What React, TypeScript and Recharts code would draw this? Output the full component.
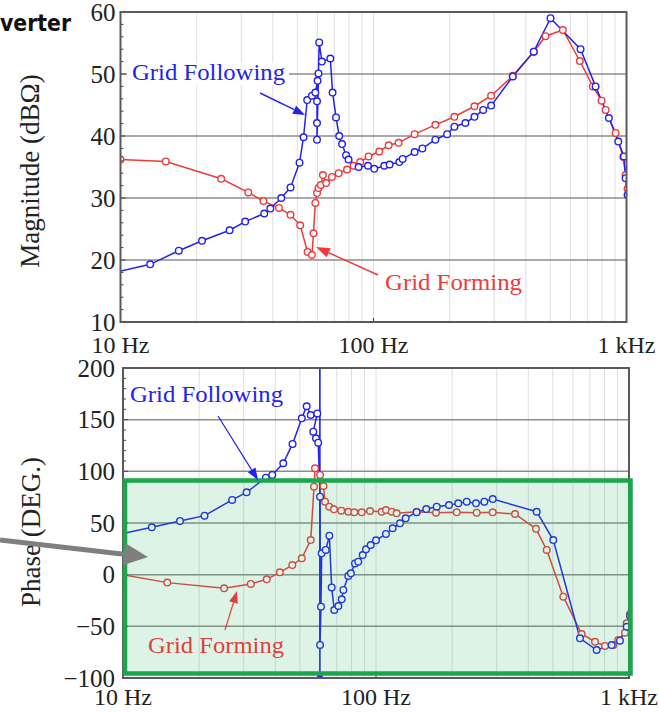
import React from 'react';
import { LineChart, Line, XAxis, YAxis, CartesianGrid, ReferenceLine, ReferenceDot } from 'recharts';

const BLUE = '#2222f0';
const RED = '#ee3a3a';
const SERIF = 'Liberation Serif, Times New Roman, Times, serif';

const freqTicks = [10, 20, 30, 40, 50, 60, 70, 80, 90, 100, 200, 300, 400, 500, 600, 700, 800, 900, 1000];
const freqTickLabels: Record<number, string> = { 10: '10 Hz', 100: '100 Hz', 1000: '1 kHz' };
const magTicks = [10, 20, 30, 40, 50, 60];
const magMinorTicks = [10, 12, 14, 16, 18, 20, 22, 24, 26, 28, 30, 32, 34, 36, 38, 40, 42, 44, 46, 48, 50, 52, 54, 56, 58, 60];
const magGrid = [20, 30, 40, 50];
const phaseTicks = [-100, -50, 0, 50, 100, 150, 200];
const phaseMinorTicks = [-100, -90, -80, -70, -60, -50, -40, -30, -20, -10, 0, 10, 20, 30, 40, 50, 60, 70, 80, 90, 100, 110, 120, 130, 140, 150, 160, 170, 180, 190, 200];
const phaseGrid = [-50, 0, 50, 100, 150];
const gridFreq = 60;

// magnitude - grid following
const magFollowFreq = [9.3, 13.1, 17.0, 21.0, 27.0, 31.1, 37.0, 39.1, 43.2, 47.0, 51.0, 52.9, 54.7, 57.1, 58.9, 60.1, 60.6, 59.8, 59.8, 59.8, 61.0, 62.5, 67.5, 68.9, 71.1, 73.2, 75.1, 77.9, 79.7, 87.3, 95.1, 100.7, 110.3, 115.8, 126.5, 130.4, 145.4, 156, 175.6, 195.4, 208.8, 230.8, 250.6, 271.3, 291.7, 355.2, 430, 500.8, 658.3, 754.7, 852, 928, 976.6, 991.7, 1010];
const magFollowVal = [17.9, 19.3, 21.5, 23.1, 24.8, 26.2, 27.5, 28.3, 30.0, 31.7, 35.7, 39.8, 45.8, 46.5, 47.0, 48.9, 50.1, 45.6, 42.1, 39.4, 55.1, 52.0, 52.5, 47.0, 43.0, 40.0, 38.7, 36.9, 36.2, 35.0, 35.2, 34.7, 35.2, 35.4, 35.8, 36.3, 37.4, 38.0, 39.4, 40.3, 41.5, 42.1, 43.1, 44.2, 44.9, 49.6, 53.6, 59.0, 54.0, 48.0, 42.9, 39.1, 36.7, 33.2, 30.5];

// magnitude - grid forming
const magFormFreq = [10, 15.1, 25.0, 32.0, 36.7, 42.3, 47.0, 51.3, 54.9, 57.1, 57.9, 58.9, 59.8, 60.6, 61.9, 63.1, 65.0, 68.5, 72.8, 78.6, 83.4, 88.6, 95.6, 105.4, 114.8, 125.7, 145.4, 175.6, 208.8, 250.6, 291.7, 355.2, 430, 478.6, 560.2, 654, 736, 797, 827, 906, 971, 992, 1010];
const magFormVal = [36.2, 35.9, 33.1, 30.9, 29.5, 28.4, 27.3, 25.6, 21.3, 20.8, 24.3, 29.2, 30.8, 31.6, 32.1, 33.7, 32.4, 33.4, 34.0, 34.6, 35.2, 35.8, 36.7, 37.5, 38.5, 38.9, 40.3, 41.8, 43.1, 44.8, 46.5, 49.7, 53.6, 56.1, 57.1, 52.1, 48.0, 45.7, 44.2, 40.5, 36.6, 33.7, 31.5];

// phase - grid following
const phFollowFreq = [9.4, 13.0, 16.8, 21.0, 27.0, 30.8, 36.7, 38.9, 43.0, 46.8, 50.9, 53.2, 55.2, 58.6, 56.5, 57.9, 59.1, 60.1, 60.1, 60.6, 61.0, 63.3, 65.4, 66.8, 68.4, 71.0, 73.2, 74.3, 77.7, 79.6, 82.6, 85.1, 88.6, 91.3, 95.3, 100, 109.5, 116.4, 124.4, 131, 144.8, 158, 173.8, 194.3, 211.5, 228.3, 248.5, 268, 289.3, 431.7, 502, 640, 745, 854, 921, 979, 1010];
const phFollowVal = [38.5, 45.8, 52.0, 57.1, 72.3, 79.7, 93.9, 96.5, 107.8, 126.5, 151.3, 163, 154.5, 156, 138.4, 132, 127.7, 75.5, -68, -31, 20.7, 23.9, 37.7, -12.3, -34.2, -30.3, -23.9, -14.8, -1.3, 1.3, 10.9, 12.6, 19.0, 24.5, 28.7, 33.2, 39.4, 44.9, 49.7, 54.5, 60.5, 63.5, 65.8, 67.4, 69.0, 70.6, 69.0, 70.6, 73.2, 60.9, 33.5, -61.6, -72.9, -68.1, -63.9, -50.4, -40];

// phase - grid forming
const phFormFreq = [9.4, 14.96, 25.1, 32.0, 37.0, 41.7, 46.7, 50.9, 55.2, 56.9, 57.4, 60.1, 62.0, 62.9, 65.3, 68.2, 72.9, 77.7, 82.1, 87.8, 94.7, 105.3, 109.5, 115.4, 120.7, 144.8, 172.7, 208.5, 250, 289.3, 354.4, 429, 473, 550, 650, 734, 804, 867, 907, 964, 979, 1010];
const phFormVal = [1.0, -7.7, -13.2, -9.0, -4.5, 2.3, 9.3, 15.8, 33.5, 85.2, 103, 96.5, 85.8, 70.6, 65.8, 63.2, 61.9, 60.9, 60.3, 60.3, 61.6, 60.9, 62.6, 61.0, 59.4, 60.9, 60.0, 60.3, 60.0, 60.3, 58.7, 44.4, 23.9, -21.3, -57.4, -64.9, -69, -68, -63.2, -56.1, -47.1, -38];

const zip = (f: number[], v: number[]) => f.map((x, i) => ({ f: x, v: v[i] }));

const freqTick = (offset: number) => (props: any) => {
  const { x, y, payload } = props;
  const label = freqTickLabels[payload.value];
  if (!label) return <g />;
  return (
    <g>
      {payload.value === 100 && <line x1={x} y1={y} x2={x} y2={y - 4} stroke="#444" strokeWidth={1.2} />}
      <text x={x} y={y + offset} textAnchor="middle" fontSize={24} fill="#222" fontFamily={SERIF}>
        {label}
      </text>
    </g>
  );
};

const phaseFmt = (v: number) => (v < 0 ? `\u2212${Math.abs(v)}` : `${v}`);

// y tick: label on majors, short inward tick on every value
const valueTick = (majors: number[], margin: number, fmt: (v: number) => string) => (props: any) => {
  const { x, y, payload } = props;
  const ax = x + margin;
  const isMajor = majors.includes(payload.value);
  return (
    <g>
      <line x1={ax} y1={y} x2={ax + (isMajor ? 5 : 3)} y2={y} stroke="#444" strokeWidth={1} />
      {isMajor && (
        <text x={x} y={y} dy="0.35em" textAnchor="end" fontSize={25} fill="#222" fontFamily={SERIF}>
          {fmt(payload.value)}
        </text>
      )}
    </g>
  );
};

const dotStyle = (c: string) => ({ r: 3.3, stroke: c, strokeWidth: 1.4, fill: '#fff' });

const Arrow = ({ x1, y1, x2, y2, color, w = 1.4, len = 12, half = 4.5 }: any) => {
  const a = Math.atan2(y2 - y1, x2 - x1);
  const bx = x2 - len * Math.cos(a);
  const by = y2 - len * Math.sin(a);
  const px = -Math.sin(a) * half;
  const py = Math.cos(a) * half;
  return (
    <g>
      <line x1={x1} y1={y1} x2={bx} y2={by} stroke={color} strokeWidth={w} />
      <polygon points={`${x2},${y2} ${bx + px},${by + py} ${bx - px},${by - py}`} fill={color} />
    </g>
  );
};

function MagnitudeChart() {
  return (
    <LineChart width={659} height={360} margin={{ top: 12, right: 32.5, bottom: 8, left: 0 }} style={{ fontFamily: SERIF }}>
      <CartesianGrid horizontal={false} stroke="#dedede" strokeWidth={1} />
      {magGrid.map((g) => (
        <ReferenceLine key={g} y={g} stroke="#8c8c8c" strokeWidth={1.5} />
      ))}
      <XAxis dataKey="f" type="number" scale="log" domain={[10, 1000]} allowDataOverflow ticks={freqTicks} interval={0}
        tick={freqTick(31)} tickLine={false} axisLine={false} tickSize={0} tickMargin={0} height={30} />
      <YAxis type="number" domain={[10, 60]} allowDataOverflow ticks={magMinorTicks} interval={0} width={120.5}
        tickSize={0} tickMargin={5} axisLine={false} tickLine={false}
        tick={valueTick(magTicks, 5, (v) => `${v}`)} />
      <Line data={zip(magFormFreq, magFormVal)} dataKey="v" stroke={RED} strokeWidth={1.5} dot={dotStyle(RED)} isAnimationActive={false} />
      <Line data={zip(magFollowFreq, magFollowVal)} dataKey="v" stroke={BLUE} strokeWidth={1.5} dot={dotStyle(BLUE)} isAnimationActive={false} />
    </LineChart>
  );
}

function PhaseChart() {
  return (
    <LineChart width={659} height={372} margin={{ top: 28, right: 30, bottom: 4, left: 0 }} style={{ fontFamily: SERIF }}>
      <CartesianGrid horizontal={false} stroke="#dedede" strokeWidth={1} />
      {phaseGrid.map((g) => (
        <ReferenceLine key={g} y={g} stroke="#8c8c8c" strokeWidth={1.5} />
      ))}
      <XAxis dataKey="f" type="number" scale="log" domain={[10, 1000]} allowDataOverflow ticks={freqTicks} interval={0}
        tick={freqTick(27)} tickLine={false} axisLine={false} tickSize={0} tickMargin={0} height={30} />
      <YAxis type="number" domain={[-100, 200]} allowDataOverflow ticks={phaseMinorTicks} interval={0} width={123}
        tickSize={0} tickMargin={8} axisLine={false} tickLine={false}
        tick={valueTick(phaseTicks, 8, phaseFmt)} />
      <ReferenceLine x={gridFreq} stroke={BLUE} strokeWidth={1.6} />
      <Line data={zip(phFormFreq, phFormVal)} dataKey="v" stroke={RED} strokeWidth={1.5} dot={dotStyle(RED)} isAnimationActive={false} />
      <Line data={zip(phFollowFreq, phFollowVal)} dataKey="v" stroke={BLUE} strokeWidth={1.5} dot={dotStyle(BLUE)} isAnimationActive={false} />
      <ReferenceDot x={gridFreq} y={-100} ifOverflow="visible"
        shape={(p: any) => <polygon points={`${p.cx},${p.cy - 6} ${p.cx - 4},${p.cy} ${p.cx + 4},${p.cy}`} fill={BLUE} />} />
    </LineChart>
  );
}

export default function App() {
  return (
    <div style={{ position: 'absolute', left: 0, top: 0, width: 659, height: 712, overflow: 'hidden', background: '#fff' }}>
      <div style={{ position: 'absolute', left: 0, top: 0 }}>
        <MagnitudeChart />
      </div>
      <div style={{ position: 'absolute', left: 0, top: 340 }}>
        <PhaseChart />
      </div>
      <svg width={659} height={712} style={{ position: 'absolute', left: 0, top: 0, pointerEvents: 'none' }}>
        <rect x={125} y={480.5} width={505.5} height={193} fill="rgba(40,180,100,0.16)" />
        <rect x={120.5} y={12} width={506} height={310} fill="none" stroke="#5a5a5a" strokeWidth={2} />
        <rect x={123} y={368} width={506} height={310} fill="none" stroke="#5a5a5a" strokeWidth={2} />
        <rect x={125} y={480.5} width={505.5} height={193} fill="none" stroke="#1aa64b" strokeWidth={4.5} />

        <text x={0} y={31} fontFamily="DejaVu Sans, sans-serif" fontWeight="bold" fontSize={23} textLength={71} lengthAdjust="spacingAndGlyphs" fill="#111">verter</text>

        <text transform="rotate(-90 30 171)" x={30} y={171} textAnchor="middle" dominantBaseline="central" fontSize={27} fill="#222" fontFamily={SERIF}>Magnitude (dBΩ)</text>
        <text transform="rotate(-90 31 532)" x={31} y={532} textAnchor="middle" dominantBaseline="central" fontSize={27} fill="#222" fontFamily={SERIF}>Phase (DEG.)</text>

        <rect x={127} y={63} width={162} height={22} fill="#fff" />
        <text x={132} y={80} fontSize={23} textLength={153} lengthAdjust="spacingAndGlyphs" fill={BLUE} fontFamily={SERIF}>Grid Following</text>
        <Arrow x1={260} y1={93} x2={305} y2={115} color={BLUE} />
        <text x={385} y={290} fontSize={23} textLength={137} lengthAdjust="spacingAndGlyphs" fill={RED} fontFamily={SERIF}>Grid Forming</text>
        <Arrow x1={378} y1={275} x2={316} y2={247} color={RED} len={14} half={5} />

        <text x={130} y={402} fontSize={23} textLength={153} lengthAdjust="spacingAndGlyphs" fill={BLUE} fontFamily={SERIF}>Grid Following</text>
        <Arrow x1={218} y1={416} x2={258} y2={480} color={BLUE} w={1.2} />
        <text x={148} y={653} fontSize={23} textLength={136} lengthAdjust="spacingAndGlyphs" fill="#e04040" fontFamily={SERIF}>Grid Forming</text>
        <Arrow x1={225} y1={630} x2={237} y2={591} color="#e04040" w={1.2} />

        <Arrow x1={0} y1={540} x2={148} y2={557} color="#7f7f7f" w={5} len={24} half={11} />
      </svg>
    </div>
  );
}
